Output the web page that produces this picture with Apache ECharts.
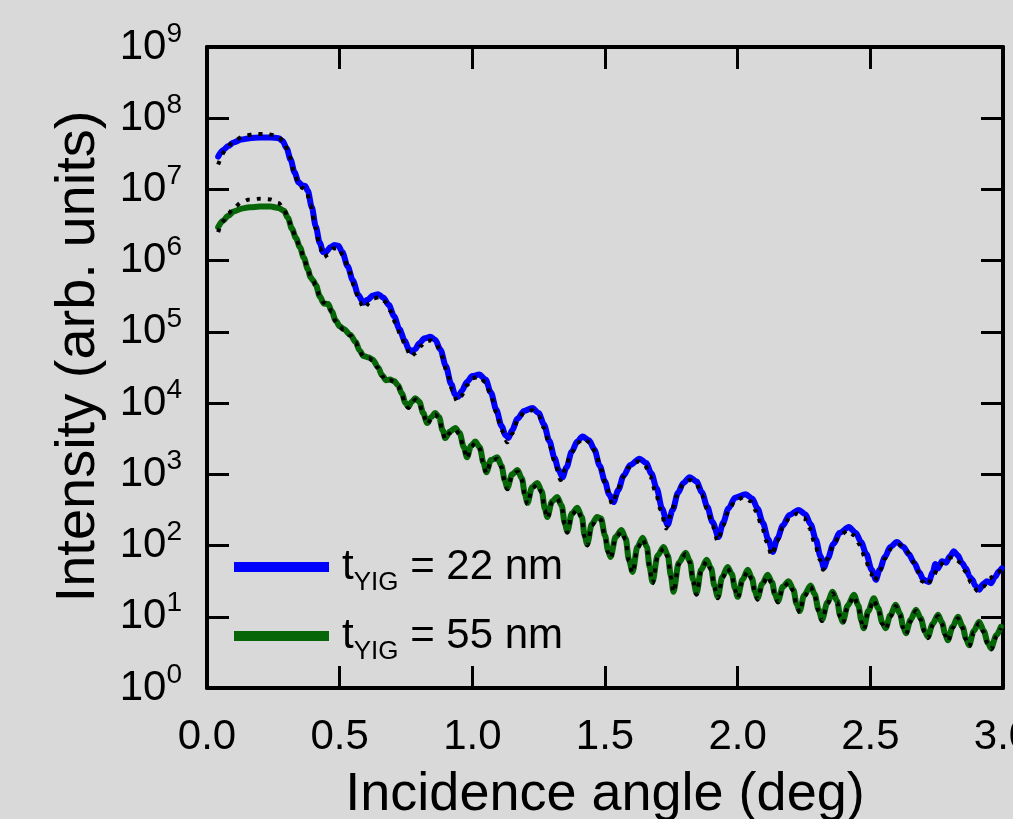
<!DOCTYPE html>
<html>
<head>
<meta charset="utf-8">
<title>X-ray reflectivity of YIG films</title>
<script src="https://cdn.jsdelivr.net/npm/echarts@6/dist/echarts.min.js"></script>
<style>
  html, body { margin: 0; padding: 0; background: #d9d9d9; }
  #chart { width: 1013px; height: 819px; }
</style>
</head>
<body>
<div id="chart"></div>
<script>
// Reflectivity curves: angle in degrees, intensity stored as log10(counts)

const xTicks = [0, 0.5, 1.0, 1.5, 2.0, 2.5, 3.0];
const yDecades = [0, 1, 2, 3, 4, 5, 6, 7, 8, 9];
const legendLabels = ['22 nm', '55 nm'];

// 22 nm film, measured
const blueAngle = [
  0.042, 0.06, 0.08, 0.10, 0.13, 0.16, 0.20, 0.24, 0.27, 0.285, 0.30, 0.315, 0.33, 0.345, 0.358, 0.37, 0.38, 0.395,
  0.41, 0.425, 0.438, 0.45, 0.465, 0.48, 0.495, 0.51, 0.53, 0.55, 0.57, 0.589, 0.605, 0.625, 0.645, 0.665, 0.685,
  0.705, 0.725, 0.745, 0.76, 0.773, 0.785, 0.80, 0.82, 0.842, 0.86, 0.88, 0.90, 0.92, 0.935, 0.947, 0.96, 0.98,
  1.00, 1.026, 1.05, 1.07, 1.09, 1.11, 1.125, 1.136, 1.15, 1.17, 1.195, 1.226, 1.25, 1.27, 1.29, 1.31, 1.325, 1.34,
  1.355, 1.375, 1.395, 1.415, 1.44, 1.46, 1.48, 1.50, 1.515, 1.532, 1.55, 1.57, 1.595, 1.63, 1.655, 1.675, 1.695,
  1.715, 1.736, 1.755, 1.775, 1.795, 1.819, 1.845, 1.865, 1.885, 1.905, 1.928, 1.945, 1.965, 1.99, 2.03, 2.055,
  2.075, 2.095, 2.115, 2.132, 2.15, 2.17, 2.195, 2.23, 2.255, 2.275, 2.295, 2.312, 2.325, 2.34, 2.36, 2.385, 2.419,
  2.445, 2.465, 2.485, 2.505, 2.521, 2.535, 2.555, 2.575, 2.60, 2.625, 2.645, 2.665, 2.685, 2.70, 2.72, 2.735,
  2.745, 2.755, 2.77, 2.785, 2.80, 2.815, 2.83, 2.845, 2.86, 2.875, 2.885, 2.895, 2.91, 2.925, 2.94, 2.955, 2.97,
  2.985, 2.995
];
const blueLog = [
  7.46, 7.55, 7.61, 7.66, 7.70, 7.72, 7.73, 7.73, 7.72, 7.68, 7.58, 7.42, 7.24, 7.10, 7.06, 7.05, 6.98, 6.75,
  6.48, 6.25, 6.12, 6.13, 6.19, 6.22, 6.21, 6.12, 5.92, 5.72, 5.52, 5.41, 5.45, 5.51, 5.53, 5.48, 5.38,
  5.22, 5.04, 4.88, 4.76, 4.72, 4.76, 4.84, 4.91, 4.93, 4.89, 4.75, 4.52, 4.27, 4.12, 4.09, 4.17, 4.30,
  4.38, 4.40, 4.33, 4.15, 3.91, 3.68, 3.55, 3.51, 3.62, 3.78, 3.89, 3.93, 3.86, 3.70, 3.47, 3.23, 3.06, 2.96,
  3.10, 3.32, 3.46, 3.53, 3.48, 3.35, 3.12, 2.90, 2.72, 2.61, 2.78, 2.98, 3.13, 3.22, 3.16, 3.01, 2.80,
  2.52, 2.29, 2.50, 2.74, 2.88, 2.96, 2.90, 2.75, 2.55, 2.33, 2.12, 2.32, 2.52, 2.67, 2.72, 2.66,
  2.52, 2.32, 2.09, 1.91, 2.10, 2.28, 2.43, 2.50, 2.44, 2.30, 2.08, 1.85, 1.69, 1.82, 2.02, 2.18, 2.26,
  2.18, 2.05, 1.88, 1.66, 1.52, 1.66, 1.84, 1.98, 2.05, 1.98, 1.88, 1.76, 1.62, 1.52, 1.49, 1.62,
  1.74, 1.68, 1.78, 1.76, 1.85, 1.92, 1.86, 1.76, 1.68, 1.56, 1.52, 1.44, 1.38, 1.46, 1.50, 1.47, 1.56,
  1.64, 1.68
];

// 22 nm film, model fit
const blueFitAngle = [
  0.042, 0.07, 0.10, 0.14, 0.18, 0.22, 0.26, 0.29, 0.31, 0.33, 0.345, 0.36, 0.375, 0.39, 0.41, 0.425, 0.44, 0.455,
  0.475, 0.495, 0.515, 0.535, 0.555, 0.575, 0.592, 0.61, 0.63, 0.65, 0.67, 0.69, 0.71, 0.73, 0.75, 0.768, 0.785,
  0.805, 0.825, 0.845, 0.865, 0.885, 0.905, 0.925, 0.942, 0.958, 0.98, 1.00, 1.025, 1.05, 1.07, 1.09, 1.11, 1.132,
  1.15, 1.17, 1.195, 1.225, 1.25, 1.27, 1.29, 1.31, 1.333, 1.35, 1.37, 1.395, 1.42, 1.445, 1.465, 1.485, 1.505,
  1.528, 1.545, 1.565, 1.59, 1.625, 1.65, 1.67, 1.69, 1.71, 1.73, 1.75, 1.77, 1.795, 1.82, 1.845, 1.865, 1.885,
  1.905, 1.925, 1.945, 1.965, 1.99, 2.025, 2.05, 2.07, 2.09, 2.11, 2.128, 2.148, 2.17, 2.195, 2.225, 2.25, 2.27,
  2.29, 2.31, 2.322, 2.34, 2.36, 2.385, 2.415, 2.44, 2.46, 2.48, 2.50, 2.515, 2.535, 2.555, 2.58, 2.61, 2.635,
  2.655, 2.675, 2.695, 2.715, 2.735, 2.76, 2.79, 2.815, 2.84, 2.86, 2.88, 2.905, 2.925, 2.95, 2.975, 2.995
];
const blueFitLog = [
  7.35, 7.55, 7.68, 7.75, 7.78, 7.78, 7.76, 7.68, 7.48, 7.22, 7.08, 7.02, 6.98, 6.78, 6.45, 6.18, 6.05, 6.08,
  6.17, 6.18, 6.06, 5.86, 5.64, 5.42, 5.33, 5.40, 5.47, 5.49, 5.43, 5.30, 5.13, 4.95, 4.78, 4.65, 4.70,
  4.80, 4.87, 4.88, 4.82, 4.66, 4.42, 4.18, 4.03, 4.10, 4.25, 4.35, 4.37, 4.29, 4.11, 3.87, 3.62, 3.45,
  3.57, 3.75, 3.87, 3.90, 3.82, 3.65, 3.42, 3.18, 2.92, 3.07, 3.28, 3.44, 3.50, 3.44, 3.30, 3.07, 2.82,
  2.58, 2.74, 2.95, 3.10, 3.18, 3.13, 2.98, 2.76, 2.50, 2.24, 2.46, 2.70, 2.86, 2.92, 2.86, 2.71, 2.51,
  2.28, 2.06, 2.28, 2.48, 2.63, 2.68, 2.62, 2.48, 2.28, 2.05, 1.86, 2.06, 2.25, 2.39, 2.45, 2.39, 2.25,
  2.04, 1.80, 1.66, 1.82, 2.00, 2.14, 2.21, 2.14, 2.01, 1.83, 1.62, 1.50, 1.64, 1.82, 1.96, 2.01, 1.94,
  1.82, 1.66, 1.50, 1.44, 1.56, 1.72, 1.82, 1.84, 1.76, 1.63, 1.48, 1.36, 1.42, 1.54, 1.62, 1.66
];

// 55 nm film, measured (fit shares the same angle grid)
const greenAngle = [
  0.042, 0.06, 0.08, 0.10, 0.13, 0.16, 0.20, 0.24, 0.27, 0.29, 0.305, 0.32, 0.335, 0.35, 0.365, 0.38, 0.39, 0.40,
  0.41, 0.425, 0.44, 0.457, 0.47, 0.485, 0.50, 0.515, 0.54, 0.56, 0.575, 0.59, 0.61, 0.625, 0.645, 0.66, 0.675,
  0.69, 0.705, 0.72, 0.735, 0.748, 0.759, 0.772, 0.785, 0.80, 0.815, 0.83, 0.845, 0.86, 0.875, 0.888, 0.898,
  0.915, 0.936, 0.952, 0.968, 0.98, 0.995, 1.011, 1.028, 1.042, 1.053, 1.07, 1.094, 1.11, 1.122, 1.132, 1.15,
  1.17, 1.187, 1.198, 1.208, 1.225, 1.245, 1.262, 1.273, 1.283, 1.30, 1.32, 1.337, 1.348, 1.358, 1.375, 1.396,
  1.413, 1.423, 1.433, 1.45, 1.47, 1.485, 1.50, 1.512, 1.521, 1.54, 1.562, 1.578, 1.59, 1.604, 1.622, 1.642,
  1.658, 1.668, 1.679, 1.698, 1.721, 1.737, 1.748, 1.758, 1.778, 1.804, 1.82, 1.832, 1.845, 1.862, 1.883, 1.90,
  1.912, 1.925, 1.942, 1.962, 1.978, 1.99, 2.00, 2.018, 2.038, 2.054, 2.065, 2.075, 2.092, 2.113, 2.13, 2.14,
  2.152, 2.17, 2.192, 2.21, 2.222, 2.234, 2.25, 2.275, 2.29, 2.305, 2.318, 2.338, 2.358, 2.375, 2.386, 2.396,
  2.415, 2.438, 2.455, 2.466, 2.475, 2.492, 2.513, 2.53, 2.545, 2.558, 2.575, 2.596, 2.612, 2.624, 2.634, 2.652,
  2.672, 2.69, 2.705, 2.717, 2.735, 2.755, 2.77, 2.782, 2.792, 2.81, 2.83, 2.848, 2.86, 2.872, 2.89, 2.91, 2.928,
  2.942, 2.955, 2.975, 2.992
];
const greenLog = [
  6.47, 6.56, 6.63, 6.69, 6.73, 6.75, 6.76, 6.76, 6.74, 6.70, 6.60, 6.45, 6.32, 6.19, 6.04, 5.88, 5.77, 5.72,
  5.66, 5.50, 5.40, 5.39, 5.29, 5.16, 5.08, 5.04, 4.96, 4.86, 4.74, 4.66, 4.64, 4.61, 4.50, 4.39, 4.32,
  4.33, 4.31, 4.25, 4.13, 4.00, 3.95, 4.02, 4.07, 4.02, 3.86, 3.72, 3.80, 3.86, 3.80, 3.62, 3.51,
  3.60, 3.65, 3.58, 3.38, 3.24, 3.40, 3.46, 3.38, 3.16, 3.03, 3.20, 3.24, 3.12, 2.92, 2.81, 3.00,
  3.06, 2.94, 2.72, 2.60, 2.82, 2.88, 2.76, 2.52, 2.40, 2.62, 2.68, 2.56, 2.32, 2.20, 2.45, 2.53,
  2.40, 2.14, 2.02, 2.30, 2.40, 2.38, 2.14, 1.92, 1.84, 2.12, 2.22, 2.10, 1.80, 1.63, 1.98, 2.11,
  1.98, 1.70, 1.49, 1.86, 1.98, 1.86, 1.58, 1.35, 1.76, 1.90, 1.78, 1.52, 1.33, 1.66, 1.80, 1.68,
  1.44, 1.28, 1.56, 1.70, 1.60, 1.40, 1.28, 1.52, 1.66, 1.54, 1.36, 1.26, 1.46, 1.59, 1.48, 1.32,
  1.22, 1.42, 1.50, 1.38, 1.18, 1.08, 1.30, 1.44, 1.32, 1.10, 0.96, 1.20, 1.35, 1.22, 1.02, 0.93,
  1.16, 1.31, 1.16, 0.95, 0.84, 1.08, 1.26, 1.12, 0.92, 0.84, 1.02, 1.17, 1.04, 0.86, 0.77, 0.96,
  1.10, 0.98, 0.80, 0.72, 0.90, 1.03, 0.92, 0.76, 0.67, 0.86, 1.00, 0.86, 0.70, 0.60, 0.80, 0.93, 0.80,
  0.64, 0.56, 0.74, 0.86
];
const greenFitLog = [
  6.40, 6.55, 6.66, 6.74, 6.82, 6.86, 6.87, 6.86, 6.81, 6.72, 6.60, 6.45, 6.32, 6.19, 6.04, 5.88, 5.78, 5.72,
  5.65, 5.50, 5.41, 5.38, 5.28, 5.15, 5.07, 5.03, 4.95, 4.85, 4.73, 4.65, 4.63, 4.60, 4.49, 4.38, 4.31,
  4.32, 4.30, 4.24, 4.11, 3.98, 3.93, 4.00, 4.05, 4.00, 3.84, 3.70, 3.78, 3.84, 3.78, 3.60, 3.49,
  3.58, 3.63, 3.56, 3.36, 3.22, 3.38, 3.44, 3.36, 3.14, 3.01, 3.18, 3.22, 3.10, 2.90, 2.79, 2.98,
  3.04, 2.92, 2.70, 2.58, 2.80, 2.86, 2.74, 2.50, 2.38, 2.60, 2.66, 2.54, 2.30, 2.18, 2.43, 2.51,
  2.38, 2.12, 2.00, 2.28, 2.38, 2.36, 2.12, 1.90, 1.82, 2.10, 2.20, 2.08, 1.78, 1.61, 1.96, 2.09,
  1.96, 1.68, 1.47, 1.84, 1.96, 1.84, 1.56, 1.34, 1.74, 1.88, 1.76, 1.50, 1.31, 1.64, 1.78, 1.66,
  1.42, 1.26, 1.54, 1.68, 1.58, 1.38, 1.26, 1.50, 1.64, 1.52, 1.34, 1.24, 1.44, 1.57, 1.46, 1.30,
  1.20, 1.40, 1.48, 1.36, 1.16, 1.06, 1.28, 1.42, 1.30, 1.08, 0.94, 1.18, 1.33, 1.20, 1.00, 0.91,
  1.14, 1.29, 1.14, 0.93, 0.82, 1.06, 1.24, 1.10, 0.90, 0.82, 1.00, 1.15, 1.02, 0.84, 0.75, 0.94,
  1.08, 0.96, 0.78, 0.70, 0.88, 1.01, 0.90, 0.74, 0.65, 0.84, 0.98, 0.84, 0.68, 0.58, 0.78, 0.91, 0.78,
  0.62, 0.54, 0.72, 0.84
];

const FONT = '"Liberation Sans", Arial, Helvetica, sans-serif';
const BLUE = '#0000ff';
const GREEN = '#076607';

function toPoints(angles, logs) {
  return angles.map((a, i) => [a, Math.pow(10, logs[i])]);
}

const spine = { show: true, onZero: false, lineStyle: { color: '#000', width: 4 } };
const innerTicks = { show: true, inside: true, length: 22, lineStyle: { color: '#000', width: 3 } };

const chart = echarts.init(document.getElementById('chart'), null, { renderer: 'canvas' });

const dataLine = (name, color, angles, logs) => ({
  name, type: 'line', xAxisIndex: 0, yAxisIndex: 0,
  data: toPoints(angles, logs),
  showSymbol: false, symbol: 'none', smooth: 0.3, smoothMonotone: 'x',
  lineStyle: { color, width: 6, cap: 'round', join: 'round' },
  itemStyle: { color },
  z: 2
});
const fitLine = (name, angles, logs) => ({
  name, type: 'line', xAxisIndex: 0, yAxisIndex: 0,
  data: toPoints(angles, logs),
  showSymbol: false, symbol: 'none', smooth: 0.3, smoothMonotone: 'x',
  lineStyle: { color: '#000', width: 4, type: [4, 7], cap: 'butt' },
  itemStyle: { color: '#000' },
  z: 3
});

chart.setOption({
  backgroundColor: '#d9d9d9',
  animation: false,
  grid: { left: 207, right: 10, top: 47, bottom: 131, outerBoundsMode: 'none', containLabel: false },
  xAxis: [
    {
      type: 'value', position: 'bottom',
      min: xTicks[0], max: xTicks[xTicks.length - 1], interval: xTicks[1] - xTicks[0],
      name: 'Incidence angle (deg)', nameLocation: 'middle', nameGap: 80,
      nameTextStyle: { fontFamily: FONT, fontSize: 54, color: '#000' },
      axisLine: spine, axisTick: innerTicks,
      axisLabel: { margin: 28, fontFamily: FONT, fontSize: 42, color: '#000',
                   showMinLabel: true, showMaxLabel: true,
                   formatter: v => v.toFixed(1) },
      splitLine: { show: false }
    },
    {
      type: 'value', position: 'top',
      min: xTicks[0], max: xTicks[xTicks.length - 1], interval: xTicks[1] - xTicks[0],
      axisLine: spine, axisTick: innerTicks,
      axisLabel: { show: false }, splitLine: { show: false }
    }
  ],
  yAxis: [
    {
      type: 'log', logBase: 10, position: 'left',
      min: Math.pow(10, yDecades[0]), max: Math.pow(10, yDecades[yDecades.length - 1]), interval: 1,
      name: 'Intensity (arb. units)', nameLocation: 'middle', nameGap: 100, nameRotate: 90,
      nameTextStyle: { fontFamily: FONT, fontSize: 56, color: '#000', padding: [0, 0, 0, 22] },
      axisLine: spine, axisTick: innerTicks,
      axisLabel: {
        margin: 25, showMinLabel: true, showMaxLabel: true,
        fontFamily: FONT, color: '#000',
        formatter: v => '{b|10}{s|' + Math.round(Math.log10(v)) + '}',
        rich: {
          b: { fontFamily: FONT, fontSize: 42, color: '#000' },
          s: { fontFamily: FONT, fontSize: 28, color: '#000', padding: [0, 0, 26, 0] }
        }
      },
      splitLine: { show: false }
    },
    {
      type: 'log', logBase: 10, position: 'right',
      min: Math.pow(10, yDecades[0]), max: Math.pow(10, yDecades[yDecades.length - 1]), interval: 1,
      axisLine: spine, axisTick: innerTicks,
      axisLabel: { show: false }, splitLine: { show: false }
    }
  ],
  legend: {
    orient: 'vertical', left: 234, top: 546, padding: 0,
    itemWidth: 95, itemHeight: 10, itemGap: 19,
    icon: 'rect',
    data: ['t22', 't55'],
    formatter: name => '{t|t}{s|YIG}{r| = ' + legendLabels[name === 't22' ? 0 : 1] + '}',
    textStyle: {
      fontFamily: FONT, fontSize: 42, color: '#000',
      rich: {
        t: { fontFamily: FONT, fontSize: 42, color: '#000', padding: [0, 0, 0, 8] },
        s: { fontFamily: FONT, fontSize: 26, color: '#000', padding: [32, 0, 0, 0] },
        r: { fontFamily: FONT, fontSize: 42, color: '#000' }
      }
    }
  },
  series: [
    dataLine('t22', BLUE, blueAngle, blueLog),
    dataLine('t55', GREEN, greenAngle, greenLog),
    fitLine('fit22', blueFitAngle, blueFitLog),
    fitLine('fit55', greenAngle, greenFitLog)
  ]
});
</script>
</body>
</html>
